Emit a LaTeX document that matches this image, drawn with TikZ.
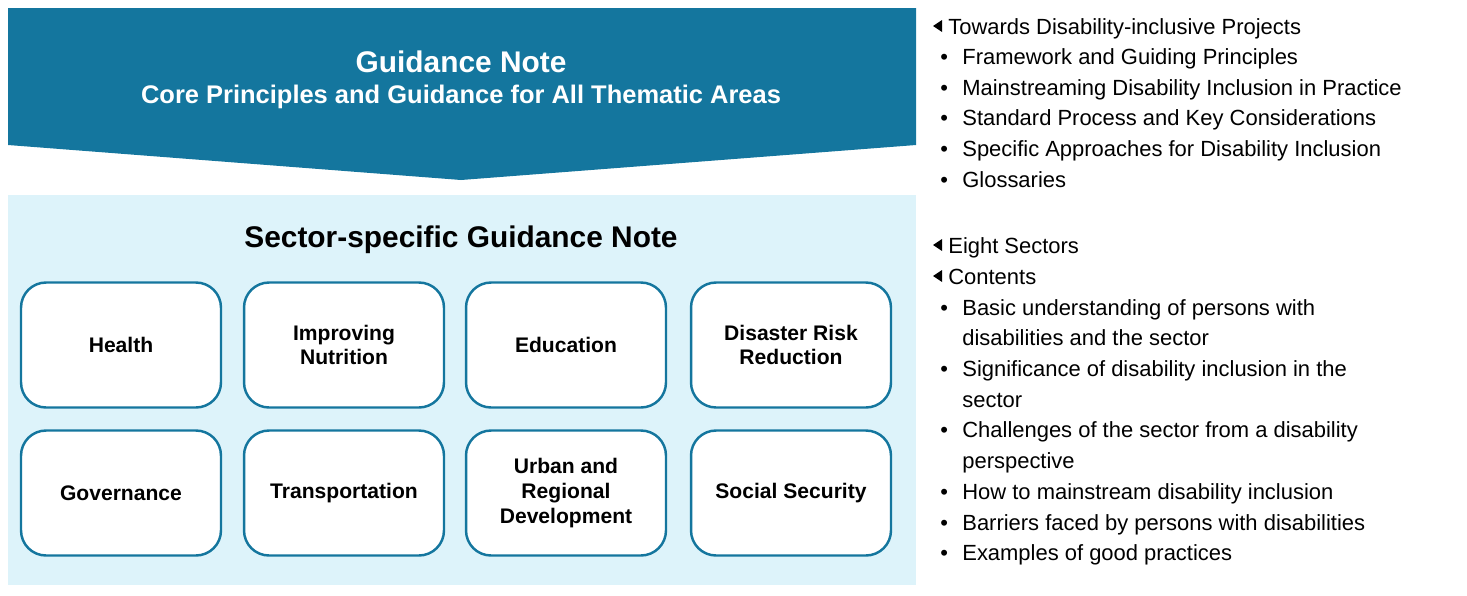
\documentclass[tikz,border=0pt]{standalone}
\usepackage{fontspec}
\setmainfont{Liberation Sans}
\usepackage{tikz}
\definecolor{noteblue}{HTML}{14769E}
\definecolor{panelblue}{HTML}{DDF3FA}
\tikzset{
  sectorbox/.style={rectangle, rounded corners=0.5cm, draw=noteblue, line width=1.4pt, fill=white,
    minimum width=4.0cm, minimum height=2.5cm, align=center, font=\fontsize{12}{14}\selectfont\bfseries},
  listline/.style={anchor=base west, inner sep=0pt, font=\fontsize{12.5}{15}\selectfont}
}
\begin{document}
\begin{tikzpicture}[x=0.02cm, y=-0.02cm]
 \useasboundingbox (0,0) rectangle (1467,595);
 % banner
 \fill[noteblue] (8,8) -- (916,8) -- (916,145) -- (461,180) -- (8,145) -- cycle;
 \node[text=white, font=\fontsize{17}{20}\selectfont\bfseries] (title) at (461,62) {Guidance Note};
 \node[text=white, font=\fontsize{14.5}{17}\selectfont\bfseries] (subtitle) at (461,97) {Core Principles and Guidance for All Thematic Areas};
 % panel
 \fill[panelblue] (8,195) rectangle (916,585);
 \node[font=\fontsize{17}{20}\selectfont\bfseries] (sector) at (461,240) {Sector-specific Guidance Note};
 \node[sectorbox] (health)     at (121,345) {Health};
 \node[sectorbox] (nutrition)  at (344,345) {Improving\\Nutrition};
 \node[sectorbox] (education)  at (566,345) {Education};
 \node[sectorbox] (drr)        at (791,345) {Disaster Risk\\Reduction};
 \node[sectorbox] (governance) at (121,493) {Governance};
 \node[sectorbox] (transport)  at (344,493) {Transportation};
 \node[sectorbox] (urban)      at (566,493) {Urban and\\Regional\\Development};
 \node[sectorbox] (social)     at (791,493) {Social Security};
 % right-hand list
 \foreach \y/\t [count=\i] in {34/Towards Disability-inclusive Projects, 253/Eight Sectors, 284/Contents} {
   \node[listline] (head\i) at (948,\y) {\t};
   \fill (942,\y-14) -- (942,\y-2) -- (933,\y-8) -- cycle;
 }
 \foreach \y/\t [count=\i] in {64/Framework and Guiding Principles,
   95/Mainstreaming Disability Inclusion in Practice,
   125/Standard Process and Key Considerations,
   156/Specific Approaches for Disability Inclusion,
   187/Glossaries,
   315/Basic understanding of persons with,
   376/Significance of disability inclusion in the,
   437/Challenges of the sector from a disability,
   499/How to mainstream disability inclusion,
   530/Barriers faced by persons with disabilities,
   560/Examples of good practices} {
   \node[listline] (item\i) at (962,\y) {\t};
   \node[listline] at (940,\y) {•};
 }
 \foreach \y/\t [count=\i] in {345/disabilities and the sector, 407/sector, 468/perspective} {
   \node[listline] (cont\i) at (962,\y) {\t};
 }
\end{tikzpicture}
\end{document}
